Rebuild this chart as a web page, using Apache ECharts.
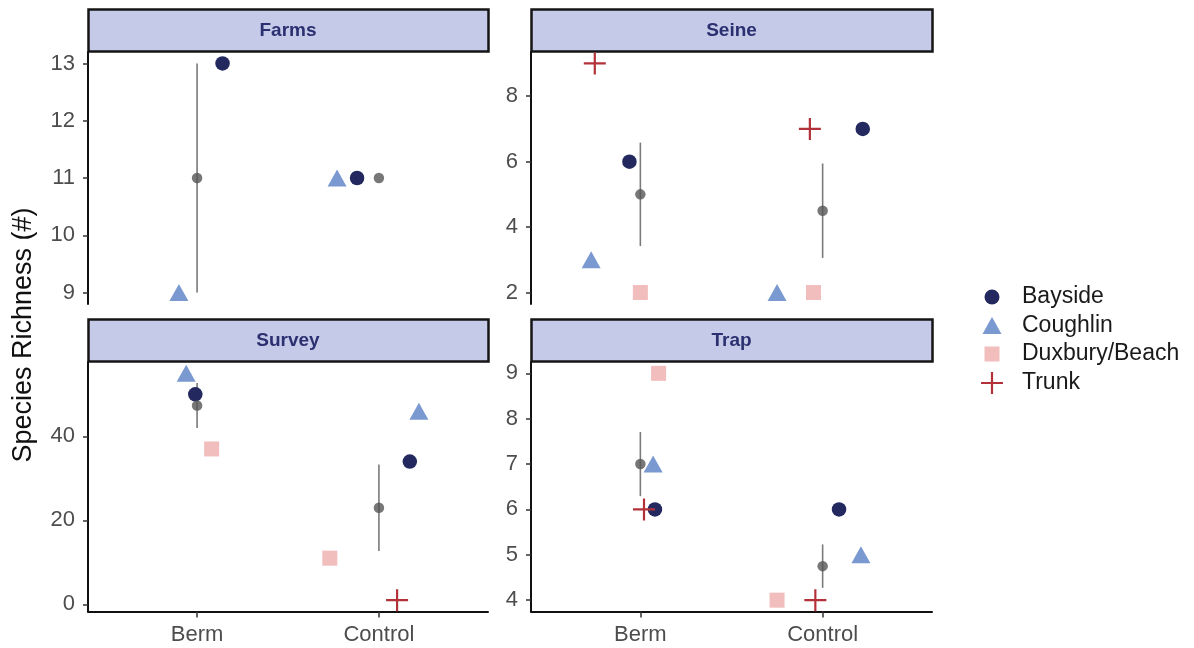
<!DOCTYPE html>
<html><head><meta charset="utf-8">
<script src="https://cdn.jsdelivr.net/npm/echarts@6/dist/echarts.min.js"></script>
<style>html,body{margin:0;padding:0;background:#fff}#c{width:1194px;height:648px}</style>
</head><body><div id="c"></div>
<script>
// ---------------- data ----------------
const groups = ['Berm', 'Control'];
const sites = ['Bayside', 'Coughlin', 'Duxbury/Beach', 'Trunk'];
const panelNames = ['Farms', 'Seine', 'Survey', 'Trap'];

// species richness per site (rows follow `sites`), columns = [Berm, Control]
const farmsValues  = [[13, 11], [9, 11], [null, null], [null, null]];
const seineValues  = [[6, 7], [3, 2], [2, 2], [9, 7]];
const surveyValues = [[50, 34], [55, 46], [37, 11], [null, 1]];
const trapValues   = [[6, 6], [7, 5], [9, 4], [6, 4]];

// horizontal jitter (category units)
const farmsJitter  = [[0.14, -0.12], [-0.10, -0.23], [0, 0], [0, 0]];
const seineJitter  = [[-0.06, 0.22], [-0.27, -0.25], [0, -0.05], [-0.25, -0.07]];
const surveyJitter = [[-0.01, 0.17], [-0.06, 0.22], [0.08, -0.27], [0, 0.10]];
const trapJitter   = [[0.08, 0.09], [0.07, 0.21], [0.10, -0.25], [0.02, -0.04]];

// y tick labels
const farmsTicks  = [9, 10, 11, 12, 13];
const seineTicks  = [2, 4, 6, 8];
const surveyTicks = [0, 20, 40];
const trapTicks   = [4, 5, 6, 7, 8, 9];

// ---------------- styling / layout ----------------
const FONT = 'Liberation Sans, Arial, sans-serif';
const siteColors = ['#23295F', '#7A99D1', '#F2BDBD', '#B3323A'];
const PLUS = 'path://M9,0H11V9H20V11H11V20H9V11H0V9H9Z';
const siteSymbols = ['circle', 'triangle', 'rect', PLUS];
const siteSizes = [14.5, [19, 17], 15, 22];

const panelValues = [farmsValues, seineValues, surveyValues, trapValues];
const panelJitter = [farmsJitter, seineJitter, surveyJitter, trapJitter];
const panelTicks = [farmsTicks, seineTicks, surveyTicks, trapTicks];

const grids = [
  {left: 88, top: 52, width: 400, height: 252},
  {left: 531, top: 52, width: 401, height: 252},
  {left: 88, top: 362, width: 400, height: 249.5},
  {left: 531, top: 362, width: 401, height: 249.5}
];
const stripH = 42;

function summary(vals) {
  const v = vals.filter(x => x !== null);
  const n = v.length;
  const m = v.reduce((a, b) => a + b, 0) / n;
  const sd = n > 1 ? Math.sqrt(v.reduce((a, b) => a + (b - m) * (b - m), 0) / (n - 1)) : 0;
  const se = sd / Math.sqrt(n);
  return {m, lo: m - se, hi: m + se};
}

const xAxes = [], yAxes = [], series = [], graphics = [];

panelNames.forEach((name, p) => {
  const vals = panelValues[p], jit = panelJitter[p];
  const sums = groups.map((g, gi) => summary(vals.map(r => r[gi])));
  let lo = Infinity, hi = -Infinity;
  vals.forEach(r => r.forEach(v => { if (v !== null) { lo = Math.min(lo, v); hi = Math.max(hi, v); } }));
  sums.forEach(s => { lo = Math.min(lo, s.lo); hi = Math.max(hi, s.hi); });
  const pad = (hi - lo) * 0.05;
  const bottom = p >= 2;

  xAxes.push({
    type: 'value', gridIndex: p, min: 0.4, max: 2.6, show: bottom,
    splitLine: {show: false},
    axisLine: {show: true, onZero: false, lineStyle: {color: '#111', width: 2}},
    axisTick: {show: true, length: 6, customValues: [1, 2], lineStyle: {color: '#333', width: 1.5}},
    axisLabel: {customValues: [1, 2], formatter: v => groups[Math.round(v) - 1],
      color: '#4D4D4D', fontSize: 22, fontFamily: FONT, margin: 12}
  });
  yAxes.push({
    type: 'value', gridIndex: p, min: lo - pad, max: hi + pad,
    splitLine: {show: false},
    axisLine: {show: true, onZero: false, lineStyle: {color: '#111', width: 2}},
    axisTick: {show: true, length: 5, customValues: panelTicks[p], lineStyle: {color: '#333', width: 1.5}},
    axisLabel: {customValues: panelTicks[p], color: '#4D4D4D', fontSize: 22, fontFamily: FONT, margin: 13}
  });

  sites.forEach((s, si) => {
    const data = [];
    groups.forEach((g, gi) => {
      const v = vals[si][gi];
      if (v !== null) data.push([gi + 1 + jit[si][gi], v]);
    });
    series.push({
      type: 'scatter', name: s, xAxisIndex: p, yAxisIndex: p, data,
      symbol: siteSymbols[si], symbolSize: siteSizes[si],
      itemStyle: {color: siteColors[si], opacity: 1}, silent: true
    });
  });

  series.push({
    type: 'custom', name: 'se', xAxisIndex: p, yAxisIndex: p, silent: true,
    data: sums.map((s, gi) => [gi + 1, s.m, s.lo, s.hi]),
    encode: {x: 0, y: 1},
    renderItem: (params, api) => {
      const a = api.coord([api.value(0), api.value(2)]);
      const b = api.coord([api.value(0), api.value(3)]);
      return {type: 'line', shape: {x1: a[0], y1: a[1], x2: b[0], y2: b[1]},
        style: {stroke: '#7A7A7A', lineWidth: 1.6}};
    }
  });
  series.push({
    type: 'scatter', name: 'mean', xAxisIndex: p, yAxisIndex: p, silent: true,
    data: sums.map((s, gi) => [gi + 1, s.m]),
    symbol: 'circle', symbolSize: 10.5, itemStyle: {color: '#555555'}
  });

  const g = grids[p];
  graphics.push({
    type: 'group', children: [
      {type: 'rect', shape: {x: g.left + 0.5, y: g.top - stripH - 0.5, width: g.width, height: stripH},
        style: {fill: '#C5CAE9', stroke: '#151515', lineWidth: 2.5}},
      {type: 'text', x: g.left + g.width / 2, y: g.top - stripH / 2 - 0.5,
        style: {text: name, align: 'center', verticalAlign: 'middle', font: 'bold 19px ' + FONT, fill: '#2B3070'}}
    ]
  });
});

graphics.push({
  type: 'text', x: 24, y: 335, rotation: Math.PI / 2,
  style: {text: 'Species Richness (#)', align: 'center', verticalAlign: 'middle', font: '27px ' + FONT, fill: '#111'}
});

const legendCenters = [297, 325.5, 354, 383];
const legendIconW = [15, 19, 15, 22];
const legendIconH = [15, 17, 15, 22];
const legends = sites.map((s, si) => ({
  data: [{name: s, icon: siteSymbols[si]}],
  orient: 'vertical', padding: 0,
  left: 992 - legendIconW[si] / 2, top: legendCenters[si] - 12,
  itemWidth: legendIconW[si], itemHeight: legendIconH[si],
  selectedMode: false,
  textStyle: {fontSize: 23, lineHeight: 24, fontFamily: FONT, color: '#1A1A1A',
    padding: [0, 0, 0, 25 - legendIconW[si] / 2]}
}));

const chart = echarts.init(document.getElementById('c'), null, {renderer: 'canvas'});
chart.setOption({
  animation: false,
  backgroundColor: '#fff',
  grid: grids,
  xAxis: xAxes,
  yAxis: yAxes,
  legend: legends,
  series,
  graphic: graphics
});
</script></body></html>
